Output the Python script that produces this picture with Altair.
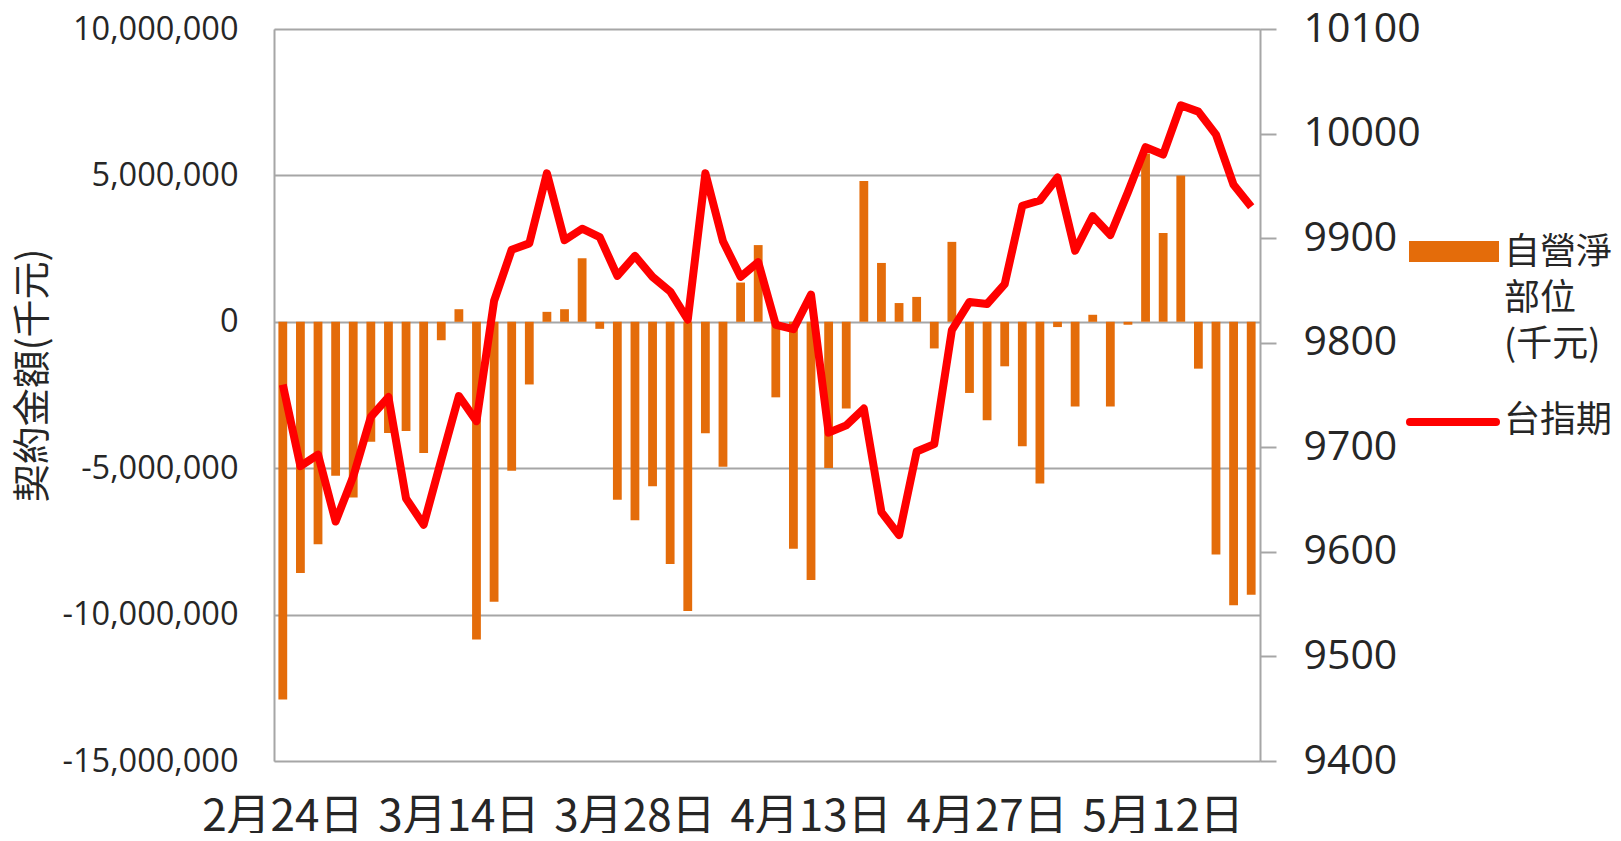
import altair as alt
import pandas as pd

# ---------------- data ----------------
dates = [
    "2月24日", "3月1日", "3月2日", "3月3日", "3月6日", "3月7日", "3月8日", "3月9日", "3月10日", "3月13日",
    "3月14日", "3月15日", "3月16日", "3月17日", "3月20日", "3月21日", "3月22日", "3月23日", "3月24日", "3月27日",
    "3月28日", "3月29日", "3月30日", "3月31日", "4月5日", "4月6日", "4月7日", "4月10日", "4月11日", "4月12日",
    "4月13日", "4月14日", "4月17日", "4月18日", "4月19日", "4月20日", "4月21日", "4月24日", "4月25日", "4月26日",
    "4月27日", "4月28日", "5月2日", "5月3日", "5月4日", "5月5日", "5月8日", "5月9日", "5月10日", "5月11日",
    "5月12日", "5月15日", "5月16日", "5月17日", "5月18日", "5月19日",
]

# 自營淨部位 (千元)
net_position = [
    -12900000, -8580000, -7600000, -5260000, -6000000, -4100000, -3800000, -3730000, -4480000, -630000,
    430000, -10850000, -9560000, -5090000, -2140000, 340000, 430000, 2170000, -240000, -6080000,
    -6780000, -5620000, -8270000, -9880000, -3810000, -4950000, 1340000, 2620000, -2580000, -7750000,
    -8820000, -4990000, -2960000, 4810000, 2010000, 640000, 850000, -910000, 2730000, -2430000,
    -3360000, -1520000, -4250000, -5520000, -180000, -2890000, 240000, -2890000, -100000, 5750000,
    3030000, 5000000, -1600000, -7950000, -9680000, -9320000,
]

# 台指期
taiex_futures = [
    9760, 9682, 9693, 9629, 9672, 9729, 9748, 9651, 9626, 9688,
    9749, 9725, 9840, 9889, 9895, 9962, 9898, 9909, 9901, 9864,
    9883, 9863, 9849, 9822, 9962, 9897, 9863, 9877, 9817, 9813,
    9846, 9714, 9721, 9737, 9638, 9616, 9696, 9703, 9812, 9839,
    9837, 9856, 9931, 9936, 9958, 9888, 9921, 9903, 9944, 9987,
    9980, 10027, 10021, 9999, 9951, 9930,
]

x_tick_labels = ["2月24日", "3月14日", "3月28日", "4月13日", "4月27日", "5月12日"]
left_ticks = [-15000000, -10000000, -5000000, 0, 5000000, 10000000]
right_ticks = [9400, 9500, 9600, 9700, 9800, 9900, 10000, 10100]

series_names = ["自營淨\n部位\n(千元)", "台指期"]
y_title = "契約金額(千元)"

df = pd.DataFrame({"date": dates, "net": net_position, "idx": taiex_futures})

ORANGE = "#E46C0A"
RED = "#FF0000"
GRID = "#A6A6A6"
TXT = "#262626"
CJK = "Noto Sans CJK TC"
LAT = "Open Sans"

x_enc = alt.X(
    "date:N",
    sort=None,
    scale=alt.Scale(paddingInner=0.5, paddingOuter=0.25),
    axis=alt.Axis(
        values=x_tick_labels,
        labelAngle=0,
        ticks=False,
        domain=False,
        labelFont=CJK,
        labelFontSize=44,
        labelColor=TXT,
        labelPadding=34,
        labelOverlap=False,
        title=None,
    ),
)

bars = alt.Chart(df).mark_bar(color=ORANGE).encode(
    x=x_enc,
    y=alt.Y(
        "net:Q",
        scale=alt.Scale(domain=[-15000000, 10000000], nice=False),
        axis=alt.Axis(
            values=left_ticks,
            labelExpr="(datum.value < 0 ? '-' : '') + format(abs(datum.value), ',')",
            grid=True,
            gridColor=GRID,
            gridWidth=2,
            ticks=False,
            domainColor=GRID,
            domainWidth=2,
            labelFont=LAT,
            labelFontSize=32.5,
            labelColor=TXT,
            labelPadding=36,
            title=y_title,
            titleFont=CJK,
            titleFontSize=38,
            titleFontWeight="normal",
            titleColor=TXT,
            titleAngle=270,
            titleAlign="center",
            titleBaseline="middle",
            titleX=-241,
            titleY=346,
        ),
    ),
)

line = alt.Chart(df).mark_line(color=RED, strokeWidth=8, strokeJoin="round").encode(
    x=x_enc,
    y=alt.Y(
        "idx:Q",
        scale=alt.Scale(domain=[9400, 10100], nice=False, zero=False),
        axis=alt.Axis(
            orient="right",
            values=right_ticks,
            format="d",
            grid=False,
            tickSize=16,
            tickColor=GRID,
            tickWidth=2,
            domainColor=GRID,
            domainWidth=2,
            labelFont=LAT,
            labelFontSize=41,
            labelColor=TXT,
            labelPadding=27,
            title=None,
        ),
    ),
)

leg_df1 = pd.DataFrame({"name": [series_names[0]]})
leg_df2 = pd.DataFrame({"name": [series_names[1]]})

leg_rect = alt.Chart(leg_df1).mark_rect(color=ORANGE).encode(
    x=alt.value(1135), x2=alt.value(1225), y=alt.value(212), y2=alt.value(233)
)
leg_text1 = alt.Chart(leg_df1).mark_text(
    align="left", baseline="middle", font=CJK, fontSize=36, color=TXT, lineBreak="\n", lineHeight=46
).encode(x=alt.value(1230), y=alt.value(224), text="name:N")

leg_line = alt.Chart(leg_df2).mark_rule(color=RED, strokeWidth=8, strokeCap="round").encode(
    x=alt.value(1136), x2=alt.value(1222), y=alt.value(393)
)
leg_text2 = alt.Chart(leg_df2).mark_text(
    align="left", baseline="middle", font=CJK, fontSize=36, color=TXT
).encode(x=alt.value(1230), y=alt.value(392), text="name:N")

chart = (
    alt.layer(bars, line, leg_rect, leg_text1, leg_line, leg_text2)
    .resolve_scale(y="independent")
    .properties(
        width=986,
        height=732,
        autosize=alt.AutoSizeParams(type="none"),
        padding={"left": 266, "top": 21, "right": 353, "bottom": 72},
    )
    .configure_view(stroke=None)
    .configure(background="white")
)

chart.save("out.html", embed_options={"renderer": "svg", "actions": False})
